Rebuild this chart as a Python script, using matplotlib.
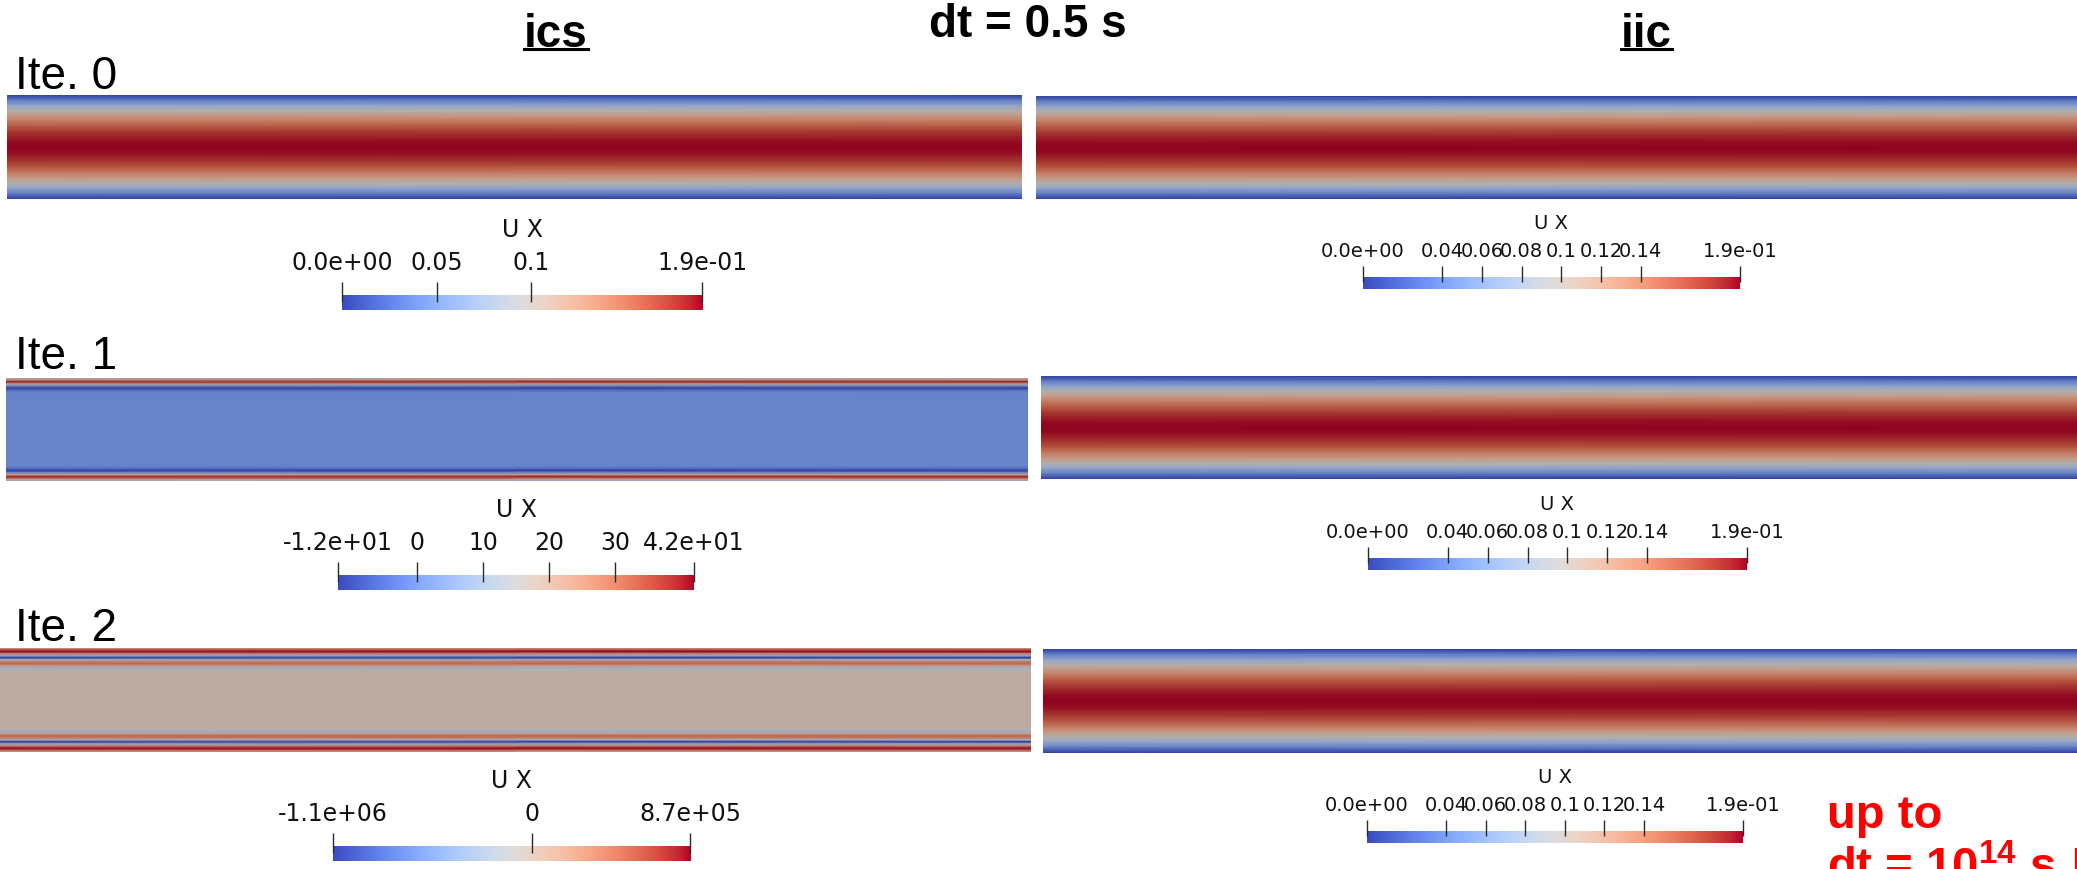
import matplotlib
matplotlib.use("Agg")
import matplotlib.pyplot as plt
import numpy as np
from matplotlib.colors import ListedColormap
from matplotlib.lines import Line2D
from matplotlib.transforms import IdentityTransform

# ---------------- DATA ----------------
# U_x across half the channel: depth 0 = wall, 0.5 = centre line (mirrored for the other half)
depth_poiseuille = np.array([0.0, 0.05, 0.1, 0.15, 0.2, 0.25, 0.3, 0.35, 0.4, 0.45, 0.5])
ux_poiseuille = np.array([0.0, 0.036, 0.068, 0.097, 0.122, 0.142, 0.160, 0.173, 0.182, 0.188, 0.190])

depth_ics_1 = np.array([0.0, 0.015, 0.04, 0.06, 0.08, 0.10, 0.12, 0.145, 0.5])
ux_ics_1 = np.array([8, 22, 40, 22, 0, -12, -4, 0, 0])

depth_ics_2 = np.array([0.0, 0.015, 0.035, 0.058, 0.077, 0.096, 0.115, 0.135,
                        0.155, 0.175, 0.195, 0.215, 0.24, 0.5])
ux_ics_2 = np.array([1e5, 5e5, 8.7e5, 3e5, -4e5, -1.1e6, -2e5, 4e5,
                     5e5, 1e5, -2.5e5, -1e5, 0, 0])

# colour bar ranges / ticks
lims_ics = [(0.0, 0.19), (-12.0, 42.0), (-1.1e6, 8.7e5)]
ticks_ics = [[0.0, 0.05, 0.1, 0.19], [-12, 0, 10, 20, 30, 42], [-1.1e6, 0, 8.7e5]]
labels_ics = [["0.0e+00", "0.05", "0.1", "1.9e-01"],
              ["-1.2e+01", "0", "10", "20", "30", "4.2e+01"],
              ["-1.1e+06", "0", "8.7e+05"]]
lims_iic = (0.0, 0.19)
ticks_iic = [0.0, 0.04, 0.06, 0.08, 0.10, 0.12, 0.14, 0.19]
labels_iic = ["0.0e+00", "0.04", "0.06", "0.08", "0.1", "0.12", "0.14", "1.9e-01"]

row_names = ["Ite. 0", "Ite. 1", "Ite. 2"]
fields_ics = [(depth_poiseuille, ux_poiseuille), (depth_ics_1, ux_ics_1), (depth_ics_2, ux_ics_2)]

# ---------------- LAYOUT (pixels, origin top-left) ----------------
W, H = 2077, 870
panel_ics = [(7, 96, 1022, 200), (6, 379, 1028, 482), (0, 649, 1031, 753)]
panel_iic = [(1036, 97, 2077, 200), (1041, 377, 2077, 480), (1043, 650, 2077, 754)]
bar_ics = [(342, 296, 702, 311), (338, 576, 694, 591), (333, 847, 690, 862)]
bar_iic = [(1363, 278, 1740, 290), (1368, 559, 1747, 571), (1367, 832, 1743, 844)]
row_label_y = [89, 369, 641]

fig = plt.figure(figsize=(W / 100, H / 100), dpi=100)
fig.patch.set_facecolor("white")

# ParaView renders the surfaces with lighting -> a bit darker than the colour bar
base = plt.cm.coolwarm(np.linspace(0, 1, 256))
base[:, :3] *= 0.8
shaded = ListedColormap(base)


def px_axes(x0, y0, x1, y1):
    ax = fig.add_axes([x0 / W, 1 - y1 / H, (x1 - x0) / W, (y1 - y0) / H])
    ax.set_axis_off()
    return ax


def draw_field(rect, depth, ux, lims):
    ax = px_axes(*rect)
    y = np.concatenate([depth, 1 - depth[::-1][1:]])
    v = np.concatenate([ux, ux[::-1][1:]]).astype(float)
    ax.pcolormesh([0, 1], y, np.column_stack([v, v]), shading="gouraud",
                  cmap=shaded, vmin=lims[0], vmax=lims[1])
    ax.set_xlim(0, 1)
    ax.set_ylim(1, 0)


def draw_bar(rect, lims, ticks, labels, fs, lab_off, title_off, tick_top):
    ax = px_axes(*rect)
    grad = np.linspace(lims[0], lims[1], 256)[None, :]
    ax.imshow(grad, extent=(lims[0], lims[1], 0, 1), aspect="auto",
              cmap="coolwarm", vmin=lims[0], vmax=lims[1])
    ax.set_xlim(*lims)
    ax.set_ylim(0, 1)
    bar_h = rect[3] - rect[1]
    ax.vlines(ticks, 0.55, 1 + tick_top / bar_h, transform=ax.get_xaxis_transform(),
              colors="#2b2b2b", lw=1.0, clip_on=False)
    for v, s in zip(ticks, labels):
        ax.annotate(s, (v, 1), xycoords=("data", "axes fraction"), xytext=(0, lab_off),
                    textcoords="offset pixels", ha="center", va="baseline",
                    fontsize=fs, family="DejaVu Sans", color="#111111")
    ax.annotate("U X", (0.5, 1), xycoords="axes fraction", xytext=(0, title_off),
                textcoords="offset pixels", ha="center", va="baseline",
                fontsize=fs, family="DejaVu Sans", color="#111111")


for i in range(3):
    d, u = fields_ics[i]
    draw_field(panel_ics[i], d, u, lims_ics[i])
    draw_field(panel_iic[i], depth_poiseuille, ux_poiseuille, lims_iic)
    draw_bar(bar_ics[i], lims_ics[i], ticks_ics[i], labels_ics[i], 17, 26, 59, 13)
    draw_bar(bar_iic[i], lims_iic, ticks_iic, labels_iic, 14, 21, 49, 11)
    fig.text(15 / W, 1 - row_label_y[i] / H, row_names[i], fontsize=33,
             family="Liberation Sans", va="baseline", ha="left")

# column titles
t_ics = fig.text(556 / W, 1 - 47 / H, "ics", fontsize=33, weight="bold",
                 family="Liberation Sans", ha="center", va="baseline")
t_iic = fig.text(1646 / W, 1 - 47 / H, "iic", fontsize=33, weight="bold",
                 family="Liberation Sans", ha="center", va="baseline")
fig.text(1028 / W, 1 - 37 / H, "dt = 0.5 s", fontsize=33, weight="bold",
         family="Liberation Sans", ha="center", va="baseline")

# red remark (second line is cut by the bottom edge)
fig.text(1827 / W, 1 - 828 / H, "up to", fontsize=34, weight="bold", color="red",
         family="Liberation Sans", ha="left", va="baseline")
fig.text(1827 / W, 1 - 881 / H, r"dt = 10$^{\mathregular{14}}$ s !", fontsize=34,
         weight="bold", color="red", family="Liberation Sans", ha="left", va="baseline")

# underline the column titles
fig.canvas.draw()
renderer = fig.canvas.get_renderer()
for t in (t_ics, t_iic):
    bb = t.get_window_extent(renderer)
    fig.add_artist(Line2D([bb.x0, bb.x1], [H - 50, H - 50], transform=IdentityTransform(),
                          color="black", lw=2.2))

fig.savefig("out.png", dpi=100, facecolor="white")
